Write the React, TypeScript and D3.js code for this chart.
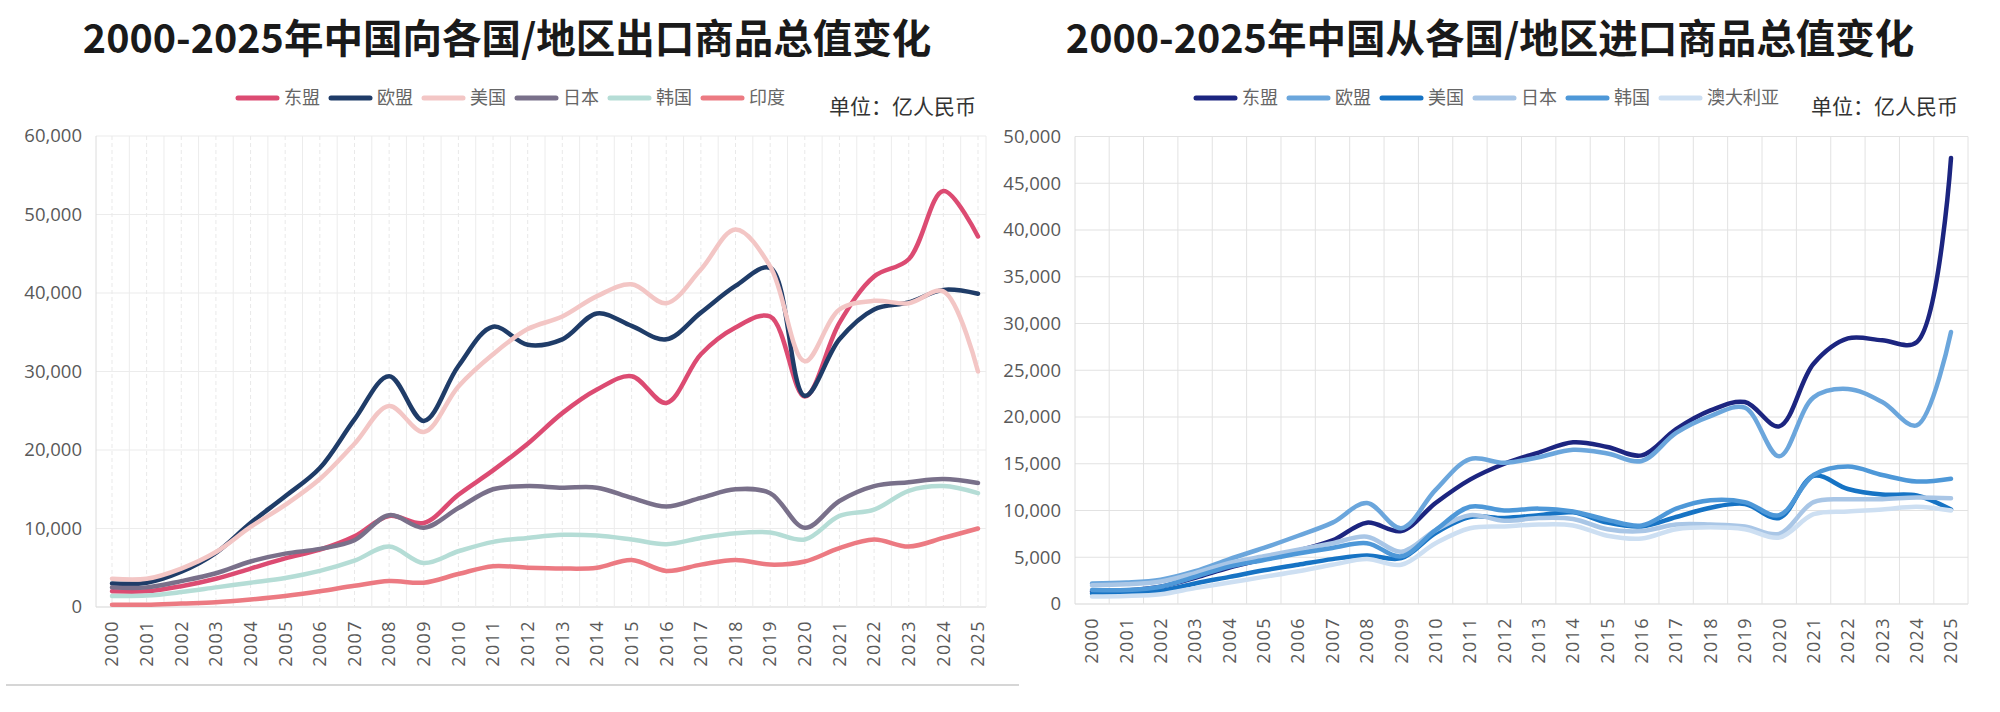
import React, { useEffect } from "react";
import * as d3 from "d3";

const YEARS = d3.range(2000, 2026);

// exports (left chart), 亿人民币
const EX_SERIES = ["东盟", "欧盟", "美国", "日本", "韩国", "印度"];
const EX_COLORS = ["#dc4b72", "#1f3c68", "#f3c6c5", "#79708a", "#b5ddd6", "#ec7a82"];
const exAsean = [2000, 2000, 2650, 3600, 4900, 6200, 7300, 9000, 11600, 10700, 14300, 17400, 20800, 24700, 27700, 29400, 26000, 32200, 35600, 37000, 26800, 36200, 42100, 44300, 53000, 47200];
const exEu = [3000, 3100, 4500, 6900, 10700, 14100, 17700, 23900, 29400, 23700, 30700, 35700, 33400, 34100, 37400, 35800, 34100, 37500, 40900, 43200, 26900, 34100, 37900, 38800, 40400, 39900];
const exUs = [3600, 3600, 4900, 7000, 10200, 13000, 16300, 20800, 25600, 22300, 28100, 32200, 35400, 37000, 39600, 41100, 38700, 43000, 48100, 43400, 31300, 37900, 39000, 38700, 40200, 30000];
const exJp = [2500, 2500, 3300, 4300, 5800, 6800, 7400, 8500, 11700, 10100, 12600, 15000, 15400, 15200, 15200, 13900, 12800, 13900, 15000, 14500, 10100, 13500, 15400, 15900, 16300, 15800];
const exKr = [1400, 1450, 1900, 2500, 3100, 3700, 4600, 5900, 7700, 5600, 7100, 8300, 8800, 9200, 9100, 8600, 8000, 8800, 9400, 9500, 8600, 11600, 12400, 14800, 15400, 14500];
const exIn = [300, 300, 450, 600, 950, 1400, 2000, 2700, 3300, 3100, 4200, 5200, 5000, 4900, 5000, 6000, 4600, 5400, 6000, 5400, 5800, 7500, 8600, 7700, 8800, 10000];
const EX_VALUES = [exAsean, exEu, exUs, exJp, exKr, exIn];
const EX_TICKS = [0, 10000, 20000, 30000, 40000, 50000, 60000];

// imports (right chart), 亿人民币
const IM_SERIES = ["东盟", "欧盟", "美国", "日本", "韩国", "澳大利亚"];
const IM_COLORS = ["#1c2580", "#6ba6dc", "#1673c4", "#a9c6e6", "#4e98d8", "#cddff2"];
const imAsean = [1350, 1450, 1850, 2800, 3900, 4800, 5700, 6800, 8700, 7800, 10800, 13300, 15000, 16200, 17300, 16800, 15900, 18700, 20700, 21600, 19000, 25700, 28400, 28200, 28000, 47700];
const imEu = [2200, 2300, 2600, 3500, 4800, 6000, 7300, 8700, 10800, 8100, 12200, 15500, 15100, 15700, 16500, 16100, 15300, 18300, 20100, 21000, 15800, 22100, 23000, 21600, 19100, 29100];
const imUs = [1150, 1150, 1400, 2200, 2900, 3600, 4200, 4800, 5200, 4900, 7600, 9300, 9200, 9500, 9800, 8700, 8300, 9300, 10300, 10700, 9200, 13700, 12300, 11700, 11600, 10100];
const imJp = [2000, 2100, 2400, 3300, 4400, 5100, 5800, 6500, 7200, 5600, 7900, 9500, 8900, 9200, 9100, 8000, 7800, 8500, 8500, 8300, 7500, 10900, 11200, 11200, 11400, 11300];
const imKr = [1500, 1500, 1850, 2900, 4000, 4700, 5400, 6000, 6500, 5100, 7900, 10400, 10000, 10200, 9900, 9000, 8400, 10200, 11100, 10900, 9500, 13800, 14700, 13800, 13100, 13400];
const imAu = [800, 850, 1050, 1700, 2300, 2900, 3500, 4200, 4800, 4200, 6500, 8100, 8300, 8500, 8400, 7300, 7000, 8000, 8200, 8000, 7100, 9600, 9900, 10100, 10400, 10000];
const IM_VALUES = [imAsean, imEu, imUs, imJp, imKr, imAu];
const IM_TICKS = [0, 5000, 10000, 15000, 20000, 25000, 30000, 35000, 40000, 45000, 50000];

const CJK = "'Noto Sans CJK SC', 'Noto Sans', sans-serif";
const NUM = "'Open Sans', 'Noto Sans', sans-serif";
const fmt = d3.format(",");

interface PanelProps {
  title: string;
  titleX: number;
  series: string[];
  colors: string[];
  values: number[][];
  ticks: number[];
  plot: { left: number; right: number; top: number; bottom: number };
  dataRange: [number, number];
  legendX: number;
  unitX: number;
  dashedMinor?: boolean;
  gridColor: string;
}

function Panel(p: PanelProps) {
  const x = d3.scalePoint<number>().domain(YEARS).range(p.dataRange);
  const y = d3.scaleLinear()
    .domain([0, d3.max(p.ticks) as number])
    .range([p.plot.bottom, p.plot.top]);

  const line = d3.line<number>()
    .x((_, i) => x(YEARS[i]) as number)
    .y((d) => y(d))
    .curve(d3.curveCatmullRom.alpha(0.5));

  const bounds = YEARS.slice(0, -1).map((yr, i) => ((x(yr) as number) + (x(YEARS[i + 1]) as number)) / 2);

  // legend layout
  let cx = p.legendX;
  const legend = p.series.map((s, i) => {
    const item = { name: s, color: p.colors[i], x: cx };
    cx += 45 + 5 + s.length * 18 + 7;
    return item;
  });

  return (
    <g>
      <text x={p.titleX} y={53} textAnchor="middle" fontFamily={CJK} fontWeight={700}
        fontSize={39.5} fill="#1a1a1a">{p.title}</text>

      {legend.map((l) => (
        <g key={l.name}>
          <line x1={l.x + 3} x2={l.x + 42} y1={98} y2={98} stroke={l.color}
            strokeWidth={5} strokeLinecap="round" />
          <text x={l.x + 49} y={98} dy="0.36em" fontFamily={CJK} fontSize={18} fill="#666">{l.name}</text>
        </g>
      ))}
      <text x={p.unitX} y={106} dy="0.36em" fontFamily={CJK} fontSize={21} fill="#333">单位：亿人民币</text>

      {/* grid */}
      {p.ticks.map((t) => (
        <line key={t} x1={p.plot.left} x2={p.plot.right} y1={y(t)} y2={y(t)}
          stroke={t === 0 ? "#d6d6d6" : p.gridColor} strokeWidth={1.2} />
      ))}
      {bounds.map((b, i) => (
        <line key={"b" + i} x1={b} x2={b} y1={p.plot.top} y2={p.plot.bottom}
          stroke={p.gridColor} strokeWidth={1} />
      ))}
      {p.dashedMinor && YEARS.map((yr) => (
        <line key={"m" + yr} x1={x(yr)} x2={x(yr)} y1={p.plot.top} y2={p.plot.bottom}
          stroke="#e9e9e9" strokeWidth={1} strokeDasharray="4 3" />
      ))}
      <line x1={p.plot.left} x2={p.plot.left} y1={p.plot.top} y2={p.plot.bottom} stroke="#dcdcdc" />
      <line x1={p.plot.right} x2={p.plot.right} y1={p.plot.top} y2={p.plot.bottom} stroke={p.gridColor} />

      {/* y labels */}
      {p.ticks.map((t) => (
        <text key={"yl" + t} x={p.plot.left - 14} y={y(t)} dy="0.35em" textAnchor="end"
          fontFamily={NUM} fontSize={18.5} fill="#595959">{fmt(t)}</text>
      ))}

      {/* x labels */}
      {YEARS.map((yr) => (
        <text key={"xl" + yr} transform={`translate(${x(yr)},${p.plot.bottom + 13}) rotate(-90)`}
          dy="0.35em" textAnchor="end" fontFamily={NUM} fontSize={18} letterSpacing={1.4}
          fill="#595959">{yr}</text>
      ))}

      {/* lines */}
      {p.values.map((vals, i) => (
        <path key={p.series[i]} d={line(vals) ?? ""} fill="none" stroke={p.colors[i]}
          strokeWidth={4.5} strokeLinecap="round" strokeLinejoin="round" />
      ))}
    </g>
  );
}

export default function App() {
  useEffect(() => {
    document.body.style.margin = "0";
  }, []);

  return (
    <svg width={2000} height={712} style={{ position: "absolute", left: 0, top: 0, background: "#fff" }}>
      <rect width={2000} height={712} fill="#fff" />
      <Panel
        title="2000-2025年中国向各国/地区出口商品总值变化"
        titleX={507}
        series={EX_SERIES}
        colors={EX_COLORS}
        values={EX_VALUES}
        ticks={EX_TICKS}
        plot={{ left: 96, right: 986, top: 136, bottom: 607 }}
        dataRange={[112, 978]}
        legendX={235}
        unitX={829}
        dashedMinor
        gridColor="#ececec"
      />
      <Panel
        title="2000-2025年中国从各国/地区进口商品总值变化"
        titleX={1490}
        series={IM_SERIES}
        colors={IM_COLORS}
        values={IM_VALUES}
        ticks={IM_TICKS}
        plot={{ left: 1075, right: 1968, top: 136.5, bottom: 604 }}
        dataRange={[1092, 1951]}
        legendX={1193}
        unitX={1811}
        gridColor="#e2e2e2"
      />
      <line x1={6} x2={1019} y1={685} y2={685} stroke="#c8c8c8" strokeWidth={1.5} />
    </svg>
  );
}
